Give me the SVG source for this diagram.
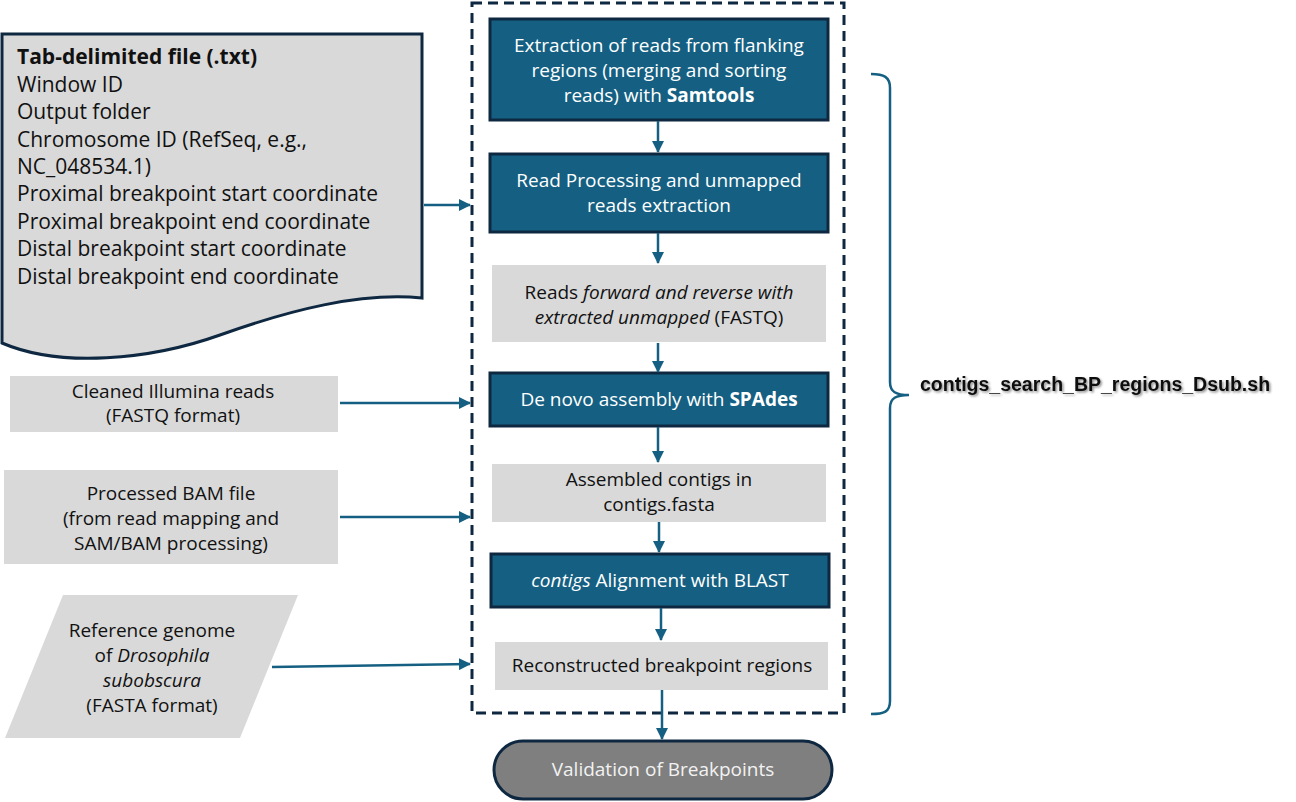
<svg xmlns="http://www.w3.org/2000/svg" width="1296" height="802" viewBox="0 0 1296 802">
<style>
text{font-family:"Open Sans","Liberation Sans",sans-serif;font-size:19px;fill:#111}
.w{fill:#ffffff}
.c{text-anchor:middle}
.dark{fill:#156082;stroke:#0e2841;stroke-width:3}
.gray{fill:#d9d9d9}
.conn{stroke:#156082;stroke-width:2.5;fill:none;marker-end:url(#ah)}
.doc{font-size:21px}
</style>
<defs>
<marker id="ah" markerUnits="userSpaceOnUse" markerWidth="12" markerHeight="12" viewBox="0 0 12 12" refX="11" refY="6" orient="auto">
<path d="M0,0 L12,6 L0,12 Z" fill="#156082"/>
</marker>
<filter id="sh" x="-5%" y="-30%" width="110%" height="160%">
<feDropShadow dx="1.5" dy="1.5" stdDeviation="1" flood-color="#000" flood-opacity="0.45"/>
</filter>
</defs>
<rect width="1296" height="802" fill="#ffffff"/>

<g id="container">
<rect x="472" y="3" width="372" height="710" fill="none" stroke="#0e2841" stroke-width="3" stroke-dasharray="10 6"/>
</g>

<g id="doc">
<path d="M2,34 H422 V298 C360,292 290,310 220,335 C150,360 60,368 2,343 Z" fill="#d9d9d9" stroke="#0e2841" stroke-width="3"/>
<text class="doc" x="17" y="64" font-weight="bold">Tab-delimited file (.txt)</text>
<text class="doc" x="17" y="92">Window ID</text>
<text class="doc" x="17" y="119">Output folder</text>
<text class="doc" x="17" y="147">Chromosome ID (RefSeq, e.g.,</text>
<text class="doc" x="17" y="174">NC_048534.1)</text>
<text class="doc" x="17" y="201">Proximal breakpoint start coordinate</text>
<text class="doc" x="17" y="229">Proximal breakpoint end coordinate</text>
<text class="doc" x="17" y="256">Distal breakpoint start coordinate</text>
<text class="doc" x="17" y="284">Distal breakpoint end coordinate</text>
</g>

<g id="illumina">
<rect class="gray" x="10" y="376" width="328" height="56"/>
<text class="c" x="173" y="398">Cleaned Illumina reads</text>
<text class="c" x="173" y="422">(FASTQ format)</text>
</g>

<g id="bam">
<rect class="gray" x="4" y="470" width="334" height="94"/>
<text class="c" x="171" y="500">Processed BAM file</text>
<text class="c" x="171" y="525">(from read mapping and</text>
<text class="c" x="171" y="550">SAM/BAM processing)</text>
</g>

<g id="refgenome">
<path class="gray" d="M63,595 H298 L240,738 H5 Z"/>
<text class="c" x="152" y="637">Reference genome</text>
<text class="c" x="152" y="662">of <tspan font-style="italic">Drosophila</tspan></text>
<text class="c" x="152" y="687" font-style="italic">subobscura</text>
<text class="c" x="152" y="712">(FASTA format)</text>
</g>

<g id="extraction">
<rect class="dark" x="490" y="19" width="338" height="101"/>
<text class="c w" x="659" y="52">Extraction of reads from flanking</text>
<text class="c w" x="659" y="77">regions (merging and sorting</text>
<text class="c w" x="659" y="102">reads) with <tspan font-weight="bold">Samtools</tspan></text>
</g>

<g id="processing">
<rect class="dark" x="490" y="154" width="338" height="78"/>
<text class="c w" x="659" y="187">Read Processing and unmapped</text>
<text class="c w" x="659" y="212">reads extraction</text>
</g>

<g id="fastq">
<rect class="gray" x="492" y="265" width="334" height="77"/>
<text class="c" x="659" y="299">Reads <tspan font-style="italic">forward and reverse with</tspan></text>
<text class="c" x="659" y="324"><tspan font-style="italic">extracted unmapped</tspan> (FASTQ)</text>
</g>

<g id="spades">
<rect class="dark" x="490" y="373" width="338" height="53"/>
<text class="c w" x="659" y="406">De novo assembly with <tspan font-weight="bold">SPAdes</tspan></text>
</g>

<g id="contigs">
<rect class="gray" x="492" y="464" width="334" height="58"/>
<text class="c" x="659" y="486">Assembled contigs in</text>
<text class="c" x="659" y="511">contigs.fasta</text>
</g>

<g id="blast">
<rect class="dark" x="491" y="554" width="338" height="53"/>
<text class="c w" x="660" y="587"><tspan font-style="italic">contigs</tspan> Alignment with BLAST</text>
</g>

<g id="reconstructed">
<rect class="gray" x="495" y="642" width="333" height="48"/>
<text class="c" x="662" y="672">Reconstructed breakpoint regions</text>
</g>

<g id="validation">
<rect x="494" y="741" width="338" height="58" rx="29" ry="29" fill="#7f7f7f" stroke="#0e2841" stroke-width="3"/>
<text class="c" x="663" y="776" style="fill:#f2f2f2">Validation of Breakpoints</text>
</g>

<g id="brace">
<path d="M871,74 C884,74 890,77 890,88 V382 C890,392 896,395 909,395 C896,395 890,398 890,408 V701 C890,712 884,714 871,714" fill="none" stroke="#156082" stroke-width="2.5"/>
<text x="920" y="391" font-weight="bold" style="font-family:'Liberation Sans',Arial,sans-serif;font-size:19.5px" filter="url(#sh)">contigs_search_BP_regions_Dsub.sh</text>
</g>

<g id="connectors">
<line class="conn" x1="658" y1="121" x2="658" y2="152"/>
<line class="conn" x1="658" y1="233" x2="658" y2="263"/>
<line class="conn" x1="658" y1="343" x2="658" y2="372"/>
<line class="conn" x1="658" y1="427" x2="658" y2="462"/>
<line class="conn" x1="659" y1="522" x2="659" y2="552"/>
<line class="conn" x1="661" y1="608" x2="661" y2="640"/>
<line class="conn" x1="662" y1="690" x2="662" y2="739"/>
<line class="conn" x1="424" y1="205" x2="470" y2="205"/>
<line class="conn" x1="340" y1="403" x2="470" y2="403"/>
<line class="conn" x1="340" y1="517" x2="470" y2="517"/>
<line class="conn" x1="272" y1="667" x2="470" y2="664"/>
</g>
</svg>
